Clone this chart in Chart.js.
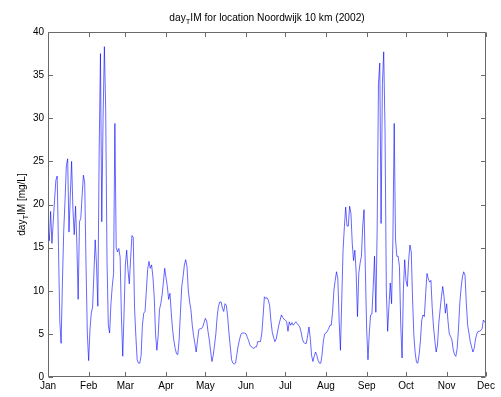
<!DOCTYPE html>
<html>
<head>
<meta charset="utf-8">
<script src="https://cdn.jsdelivr.net/npm/chart.js@4/dist/chart.umd.min.js"></script>
<style>
  html, body { margin: 0; padding: 0; background: #ffffff; }
  #wrap { width: 501px; height: 397px; position: relative; }
</style>
</head>
<body>
<div id="wrap"><canvas id="c" width="501" height="397"></canvas></div>
<script>
// Month tick labels and the day-of-year (0 = 1 Jan) where each month starts
const monthLabels = ['Jan', 'Feb', 'Mar', 'Apr', 'May', 'Jun', 'Jul', 'Aug', 'Sep', 'Oct', 'Nov', 'Dec'];
const monthStartDay = [0, 31, 59, 90, 120, 151, 181, 212, 243, 273, 304, 334];
const yTicks = [0, 5, 10, 15, 20, 25, 30, 35, 40];

// Daily inorganic matter concentration [mg/L], one array per month
const jan = [17.4, 15.8, 19.2, 15.5, 18.0, 20.5, 22.8, 23.3, 15.0, 6.5, 3.9, 11.0, 17.0, 20.5, 24.5, 25.3,
             16.8, 21.0, 25.0, 19.5, 16.5, 19.8, 15.5, 9.0, 18.0, 18.4, 21.0, 23.4, 22.5, 13.0, 5.0];
const feb = [1.9, 5.5, 7.4, 8.1, 12.0, 15.9, 13.0, 8.2, 25.9, 37.5, 18.0, 30.0, 38.3, 31.0, 13.5, 6.0,
             5.1, 8.5, 10.5, 12.0, 29.4, 15.0, 14.5, 14.9, 13.9, 7.0, 2.4, 7.4];
const mar = [13.0, 14.7, 12.4, 10.8, 13.7, 16.4, 16.2, 8.0, 4.7, 2.0, 1.6, 1.6, 2.5, 6.0, 7.4, 7.6,
             10.0, 12.5, 13.4, 12.6, 13.0, 11.6, 9.3, 5.0, 3.1, 4.7, 7.8, 8.5, 9.5, 11.0, 12.6];
const apr = [11.5, 10.5, 9.0, 9.7, 7.4, 5.5, 4.2, 3.3, 2.7, 2.6, 4.3, 7.5, 10.5, 11.6, 13.0, 13.6,
             12.8, 10.0, 8.7, 7.8, 6.0, 4.8, 3.9, 2.9, 4.2, 5.5, 5.6, 5.6, 5.8, 6.3];
const may = [6.8, 6.5, 5.3, 4.3, 3.0, 1.8, 2.5, 3.7, 5.0, 7.0, 8.2, 8.7, 8.7, 8.0, 7.6, 8.5,
             8.3, 7.0, 5.1, 3.5, 2.0, 1.6, 1.5, 1.6, 2.6, 3.6, 4.3, 4.9, 5.1, 5.1, 5.1];
const jun = [5.0, 4.6, 4.2, 3.7, 3.5, 3.4, 3.3, 3.5, 3.5, 4.1, 4.1, 4.1, 5.0, 7.0, 9.3, 9.1,
             9.2, 8.9, 8.3, 6.5, 5.2, 4.6, 4.1, 4.4, 5.2, 6.0, 6.6, 7.2, 6.9, 6.7];
const jul = [6.6, 6.4, 5.3, 6.4, 6.0, 6.3, 6.0, 6.2, 6.4, 6.2, 6.0, 5.8, 5.2, 4.4, 4.0, 3.9,
             3.9, 4.8, 5.8, 4.5, 2.5, 1.8, 2.4, 2.9, 2.5, 1.9, 1.6, 1.6, 2.6, 4.2, 5.0];
const aug = [5.1, 5.3, 5.6, 6.0, 6.0, 7.5, 10.0, 11.2, 12.2, 11.4, 6.6, 3.1, 8.9, 14.7, 17.4, 19.7,
             17.5, 17.5, 19.8, 19.0, 15.5, 13.5, 14.7, 12.0, 7.0, 12.0, 13.2, 14.0, 17.5, 19.4, 12.5];
const sep = [5.5, 2.0, 5.1, 7.2, 7.3, 10.5, 14.0, 7.5, 17.0, 34.0, 36.4, 17.8, 34.0, 37.7, 28.6, 10.0,
             5.3, 8.2, 10.9, 8.5, 16.0, 29.4, 16.0, 14.0, 14.0, 12.8, 6.0, 2.2, 10.1, 13.6];
const oct = [11.2, 10.5, 13.5, 15.3, 14.5, 9.0, 4.8, 2.8, 1.7, 1.6, 2.6, 4.2, 6.6, 7.2, 7.0, 9.7,
             12.0, 11.4, 11.0, 11.2, 8.0, 5.8, 4.2, 2.9, 3.7, 6.2, 7.8, 9.3, 10.5, 9.3, 7.4];
const nov = [8.5, 6.5, 5.0, 4.7, 4.3, 3.2, 2.6, 2.4, 3.3, 5.5, 8.5, 10.3, 11.6, 12.2, 11.8, 8.5,
             6.0, 5.1, 4.1, 3.5, 2.9, 3.3, 4.4, 5.0, 5.3, 5.3, 5.4, 5.6, 6.6, 6.4];
const dec = [6.2];

const dailyIM = [].concat(jan, feb, mar, apr, may, jun, jul, aug, sep, oct, nov, dec);
const points = dailyIM.map((v, day) => ({ x: day, y: v }));

const FONT = '"Liberation Sans", Arial, Helvetica, sans-serif';
const AXIS_COLOR = '#6a6a6a';

// Text made of normal and subscript parts
function partsWidth(ctx, parts, size, subSize) {
  let w = 0;
  for (const p of parts) {
    ctx.font = (p.sub ? subSize : size) + 'px ' + FONT;
    w += ctx.measureText(p.t).width;
  }
  return w;
}
function drawParts(ctx, parts, x, y, size, subSize, subDrop) {
  let cx = x;
  for (const p of parts) {
    ctx.font = (p.sub ? subSize : size) + 'px ' + FONT;
    ctx.fillText(p.t, cx, p.sub ? y + subDrop : y);
    cx += ctx.measureText(p.t).width;
  }
}

const titleParts = [{ t: 'day' }, { t: 'T', sub: true }, { t: 'IM for location Noordwijk 10 km (2002)' }];
const yLabelParts = [{ t: 'day' }, { t: 'T', sub: true }, { t: 'IM [mg/L]' }];

// Boxed axes with inward tick marks on all four sides, plus title and y label
const matlabAxes = {
  id: 'matlabAxes',
  afterDatasetsDraw(chart) {
    const { ctx, chartArea: a, scales: { x, y } } = chart;
    const L = Math.round(a.left) + 0.5, R = Math.round(a.right) - 0.5;
    const T = Math.round(a.top) + 0.5, B = Math.round(a.bottom) - 0.5;
    const tl = 4.5;
    ctx.save();
    ctx.strokeStyle = AXIS_COLOR;
    ctx.lineWidth = 1;
    ctx.beginPath();
    ctx.moveTo(L, T); ctx.lineTo(R, T); ctx.lineTo(R, B); ctx.lineTo(L, B); ctx.closePath();
    x.ticks.forEach(t => {
      const px = Math.round(x.getPixelForValue(t.value)) + 0.5;
      ctx.moveTo(px, B); ctx.lineTo(px, B - tl);
      ctx.moveTo(px, T); ctx.lineTo(px, T + tl);
    });
    y.ticks.forEach(t => {
      const py = Math.round(y.getPixelForValue(t.value)) + 0.5;
      ctx.moveTo(L, py); ctx.lineTo(L + tl, py);
      ctx.moveTo(R, py); ctx.lineTo(R - tl, py);
    });
    ctx.stroke();

    ctx.fillStyle = '#000';
    ctx.textBaseline = 'alphabetic';
    ctx.textAlign = 'left';
    // title
    const tw = partsWidth(ctx, titleParts, 10.2, 7.5);
    drawParts(ctx, titleParts, (a.left + a.right) / 2 - tw / 2, 21, 10.2, 7.5, 3);
    // rotated y-axis label
    const lw = partsWidth(ctx, yLabelParts, 10, 7.5);
    ctx.translate(25, (a.top + a.bottom) / 2);
    ctx.rotate(-Math.PI / 2);
    drawParts(ctx, yLabelParts, -lw / 2, 0, 10, 7.5, 3);
    ctx.restore();
  }
};

new Chart(document.getElementById('c'), {
  type: 'line',
  data: {
    datasets: [{
      data: points,
      borderColor: '#0000ff',
      borderWidth: 0.6,
      pointRadius: 0,
      tension: 0,
      fill: false
    }]
  },
  options: {
    responsive: false,
    animation: false,
    events: [],
    layout: { padding: { top: 32, right: 15, left: 0, bottom: 0 } },
    plugins: { legend: { display: false }, tooltip: { enabled: false }, title: { display: false } },
    scales: {
      x: {
        type: 'linear',
        min: 0,
        max: 334,
        afterBuildTicks: s => { s.ticks = monthStartDay.map(v => ({ value: v })); },
        afterFit: s => { s.height = 20; },
        grid: { display: false, drawTicks: false, tickLength: 0 },
        border: { display: false },
        ticks: {
          autoSkip: false,
          maxRotation: 0,
          padding: 3,
          color: '#000',
          font: { family: FONT, size: 10 },
          callback: v => monthLabels[monthStartDay.indexOf(v)]
        }
      },
      y: {
        min: 0,
        max: 40,
        afterBuildTicks: s => { s.ticks = yTicks.map(v => ({ value: v })); },
        afterFit: s => { s.width = 48; },
        grid: { display: false, drawTicks: false, tickLength: 0 },
        border: { display: false },
        ticks: {
          padding: 4,
          color: '#000',
          font: { family: FONT, size: 10 }
        }
      }
    }
  },
  plugins: [matlabAxes]
});
</script>
</body>
</html>
